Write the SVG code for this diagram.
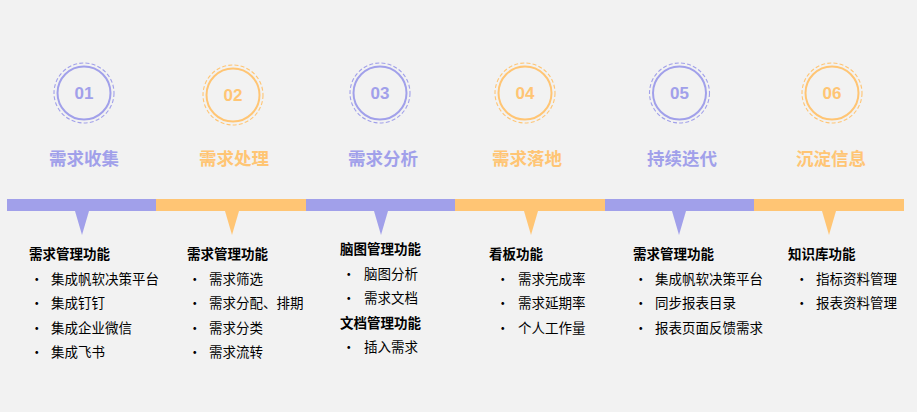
<svg xmlns="http://www.w3.org/2000/svg" width="917" height="412" viewBox="0 0 917 412">
<style>
.bg{fill:#f2f2f2}
.p{fill:#a1a0ea}
.o{fill:#ffc574}
.ring{fill:none;stroke-width:2}
.dash{fill:none;stroke-width:1.1;stroke-dasharray:4 2.2}
.rp{stroke:#a1a0ea}
.ro{stroke:#ffc574}
.num{font-family:"Liberation Sans",Arial,sans-serif;font-weight:bold;font-size:17px;text-anchor:middle}
.title{font-family:"Noto Sans CJK SC","Noto Sans",sans-serif;font-weight:bold;font-size:17.5px;text-anchor:middle}
.h{font-family:"Noto Sans CJK SC","Noto Sans",sans-serif;font-weight:bold;font-size:13.5px;fill:#000}
.t{font-family:"Noto Sans CJK SC","Noto Sans",sans-serif;font-size:13.5px;fill:#000}
</style>
<rect class="bg" x="0" y="0" width="917" height="412"/>
<g id="connectors">
<rect class="p" x="7" y="199" width="149" height="12"/>
<rect class="o" x="156" y="199" width="150" height="12"/>
<rect class="p" x="306" y="199" width="149" height="12"/>
<rect class="o" x="455" y="199" width="150" height="12"/>
<rect class="p" x="605" y="199" width="149" height="12"/>
<rect class="o" x="754" y="199" width="150" height="12"/>
<polygon class="p" points="75,211 89,211 82,235"/>
<polygon class="o" points="225,211 239,211 232,235"/>
<polygon class="p" points="374,211 388,211 381,235"/>
<polygon class="o" points="524,211 538,211 531,235"/>
<polygon class="p" points="672,211 686,211 679,235"/>
<polygon class="o" points="822,211 836,211 829,235"/>
</g>
<g id="node1">
<circle class="dash rp" cx="84" cy="93" r="30"/>
<circle class="ring rp" cx="84" cy="93" r="26.5"/>
<text class="num p" x="84" y="99">01</text>
<text class="title p" x="84" y="165">需求收集</text>
<text class="h" x="29" y="259">需求管理功能</text>
<text class="t" x="30" y="284">•</text><text class="t" x="51" y="284">集成帆软决策平台</text>
<text class="t" x="30" y="308">•</text><text class="t" x="51" y="308">集成钉钉</text>
<text class="t" x="30" y="333">•</text><text class="t" x="51" y="333">集成企业微信</text>
<text class="t" x="30" y="357">•</text><text class="t" x="51" y="357">集成飞书</text>
</g>
<g id="node2">
<circle class="dash ro" cx="233" cy="95" r="30"/>
<circle class="ring ro" cx="233" cy="95" r="26.5"/>
<text class="num o" x="233" y="101">02</text>
<text class="title o" x="234" y="165">需求处理</text>
<text class="h" x="187" y="259">需求管理功能</text>
<text class="t" x="188" y="284">•</text><text class="t" x="209" y="284">需求筛选</text>
<text class="t" x="188" y="308">•</text><text class="t" x="209" y="308">需求分配、排期</text>
<text class="t" x="188" y="333">•</text><text class="t" x="209" y="333">需求分类</text>
<text class="t" x="188" y="357">•</text><text class="t" x="209" y="357">需求流转</text>
</g>
<g id="node3">
<circle class="dash rp" cx="380" cy="93" r="30"/>
<circle class="ring rp" cx="380" cy="93" r="26.5"/>
<text class="num p" x="380" y="99">03</text>
<text class="title p" x="383" y="165">需求分析</text>
<text class="h" x="340" y="254">脑图管理功能</text>
<text class="t" x="342" y="279">•</text><text class="t" x="364" y="279">脑图分析</text>
<text class="t" x="342" y="303">•</text><text class="t" x="364" y="303">需求文档</text>
<text class="h" x="340" y="328">文档管理功能</text>
<text class="t" x="342" y="352">•</text><text class="t" x="364" y="352">插入需求</text>
</g>
<g id="node4">
<circle class="dash ro" cx="525" cy="93" r="30"/>
<circle class="ring ro" cx="525" cy="93" r="26.5"/>
<text class="num o" x="525" y="99">04</text>
<text class="title o" x="527" y="165">需求落地</text>
<text class="h" x="489" y="259">看板功能</text>
<text class="t" x="496" y="284">•</text><text class="t" x="518" y="284">需求完成率</text>
<text class="t" x="496" y="308">•</text><text class="t" x="518" y="308">需求延期率</text>
<text class="t" x="496" y="333">•</text><text class="t" x="518" y="333">个人工作量</text>
</g>
<g id="node5">
<circle class="dash rp" cx="679.5" cy="93" r="30"/>
<circle class="ring rp" cx="679.5" cy="93" r="26.5"/>
<text class="num p" x="679.5" y="99">05</text>
<text class="title p" x="682" y="165">持续迭代</text>
<text class="h" x="633" y="259">需求管理功能</text>
<text class="t" x="634" y="284">•</text><text class="t" x="655" y="284">集成帆软决策平台</text>
<text class="t" x="634" y="308">•</text><text class="t" x="655" y="308">同步报表目录</text>
<text class="t" x="634" y="333">•</text><text class="t" x="655" y="333">报表页面反馈需求</text>
</g>
<g id="node6">
<circle class="dash ro" cx="832" cy="93" r="30"/>
<circle class="ring ro" cx="832" cy="93" r="26.5"/>
<text class="num o" x="832" y="99">06</text>
<text class="title o" x="831" y="165">沉淀信息</text>
<text class="h" x="788" y="259">知识库功能</text>
<text class="t" x="795" y="284">•</text><text class="t" x="816" y="284">指标资料管理</text>
<text class="t" x="795" y="308">•</text><text class="t" x="816" y="308">报表资料管理</text>
</g>
</svg>
